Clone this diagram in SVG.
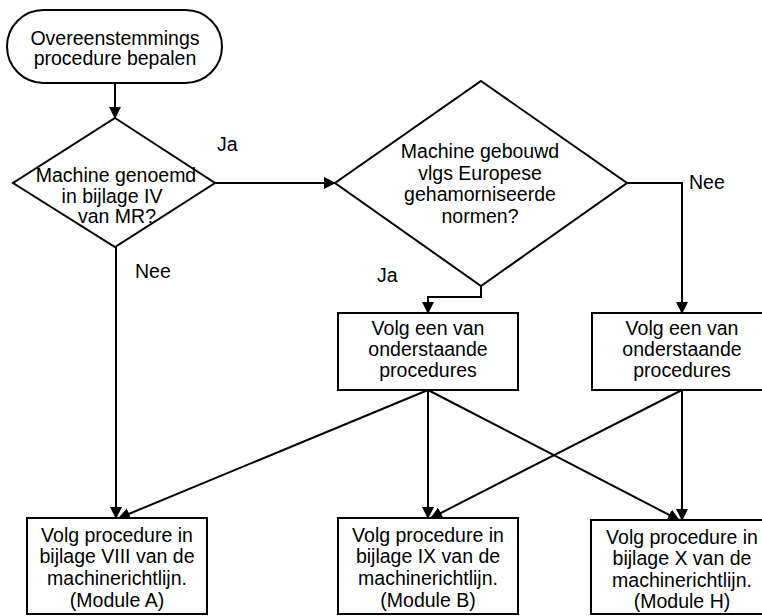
<svg xmlns="http://www.w3.org/2000/svg" width="762" height="616" viewBox="0 0 762 616">
<defs>
<style>
.s{fill:#fff;stroke:#000;stroke-width:2}
.t{font-family:"Liberation Sans",Arial,sans-serif;font-size:19.5px;fill:#000;text-anchor:middle}
.l{font-family:"Liberation Sans",Arial,sans-serif;font-size:19.5px;fill:#000}
.c{fill:none;stroke:#000;stroke-width:2}
</style>
<marker id="ah" markerUnits="userSpaceOnUse" markerWidth="12" markerHeight="12" refX="11" refY="6" orient="auto">
<path d="M0,0 L12,6 L0,12 z" fill="#000"/>
</marker>
</defs>
<rect width="762" height="616" fill="#fff"/>
<g id="connectors">
<path class="c" d="M115,83 L115,118" marker-end="url(#ah)"/>
<path class="c" d="M215,183 L335,183" marker-end="url(#ah)"/>
<path class="c" d="M116,247 L116,518" marker-end="url(#ah)"/>
<path class="c" d="M481,286 L481,297 L428,297 L428,313" marker-end="url(#ah)"/>
<path class="c" d="M627,183 L682,183 L682,313" marker-end="url(#ah)"/>
<path class="c" d="M428,390 L119,518" marker-end="url(#ah)"/>
<path class="c" d="M428,390 L428,518" marker-end="url(#ah)"/>
<path class="c" d="M428,390 L679,520" marker-end="url(#ah)"/>
<path class="c" d="M682,390 L431,518" marker-end="url(#ah)"/>
<path class="c" d="M682,390 L682,520" marker-end="url(#ah)"/>
<text class="l" x="217" y="151">Ja</text>
<text class="l" x="135" y="278">Nee</text>
<text class="l" x="689" y="189">Nee</text>
<text class="l" x="377" y="282">Ja</text>
</g>
<g id="start">
<rect class="s" x="7" y="10" width="215" height="73" rx="36.5" ry="36.5"/>
<text class="t" x="115" y="45">Overeenstemmings</text>
<text class="t" x="115" y="65">procedure bepalen</text>
</g>
<g id="decision1">
<polygon class="s" points="115,118 215,183 115,247 13,183"/>
<text class="t" x="116" y="182">Machine genoemd</text>
<text class="t" x="112" y="203">in bijlage  IV</text>
<text class="t" x="117" y="223">van MR?</text>
</g>
<g id="decision2">
<polygon class="s" points="481,81 627,183 481,286 335,183"/>
<text class="t" x="480" y="158">Machine gebouwd</text>
<text class="t" x="480" y="180">vlgs Europese</text>
<text class="t" x="480" y="201">gehamorniseerde</text>
<text class="t" x="480" y="223">normen?</text>
</g>
<g id="choose1">
<rect class="s" x="338" y="313" width="180" height="77"/>
<text class="t" x="428" y="335">Volg een van</text>
<text class="t" x="428" y="356">onderstaande</text>
<text class="t" x="428" y="377">procedures</text>
</g>
<g id="choose2">
<rect class="s" x="592" y="313" width="180" height="77"/>
<text class="t" x="682" y="335">Volg een van</text>
<text class="t" x="682" y="356">onderstaande</text>
<text class="t" x="682" y="377">procedures</text>
</g>
<g id="moduleA">
<rect class="s" x="27" y="518" width="180" height="96"/>
<text class="t" x="117" y="542">Volg procedure in</text>
<text class="t" x="117" y="563">bijlage VIII van de</text>
<text class="t" x="117" y="585">machinerichtlijn.</text>
<text class="t" x="117" y="607">(Module A)</text>
</g>
<g id="moduleB">
<rect class="s" x="338" y="518" width="180" height="96"/>
<text class="t" x="428" y="542">Volg procedure in</text>
<text class="t" x="428" y="563">bijlage IX van de</text>
<text class="t" x="428" y="585">machinerichtlijn.</text>
<text class="t" x="428" y="607">(Module B)</text>
</g>
<g id="moduleH">
<rect class="s" x="591" y="520" width="182" height="94"/>
<text class="t" x="682" y="544">Volg procedure in</text>
<text class="t" x="682" y="565">bijlage X van de</text>
<text class="t" x="682" y="587">machinerichtlijn.</text>
<text class="t" x="682" y="608">(Module H)</text>
</g>
</svg>
